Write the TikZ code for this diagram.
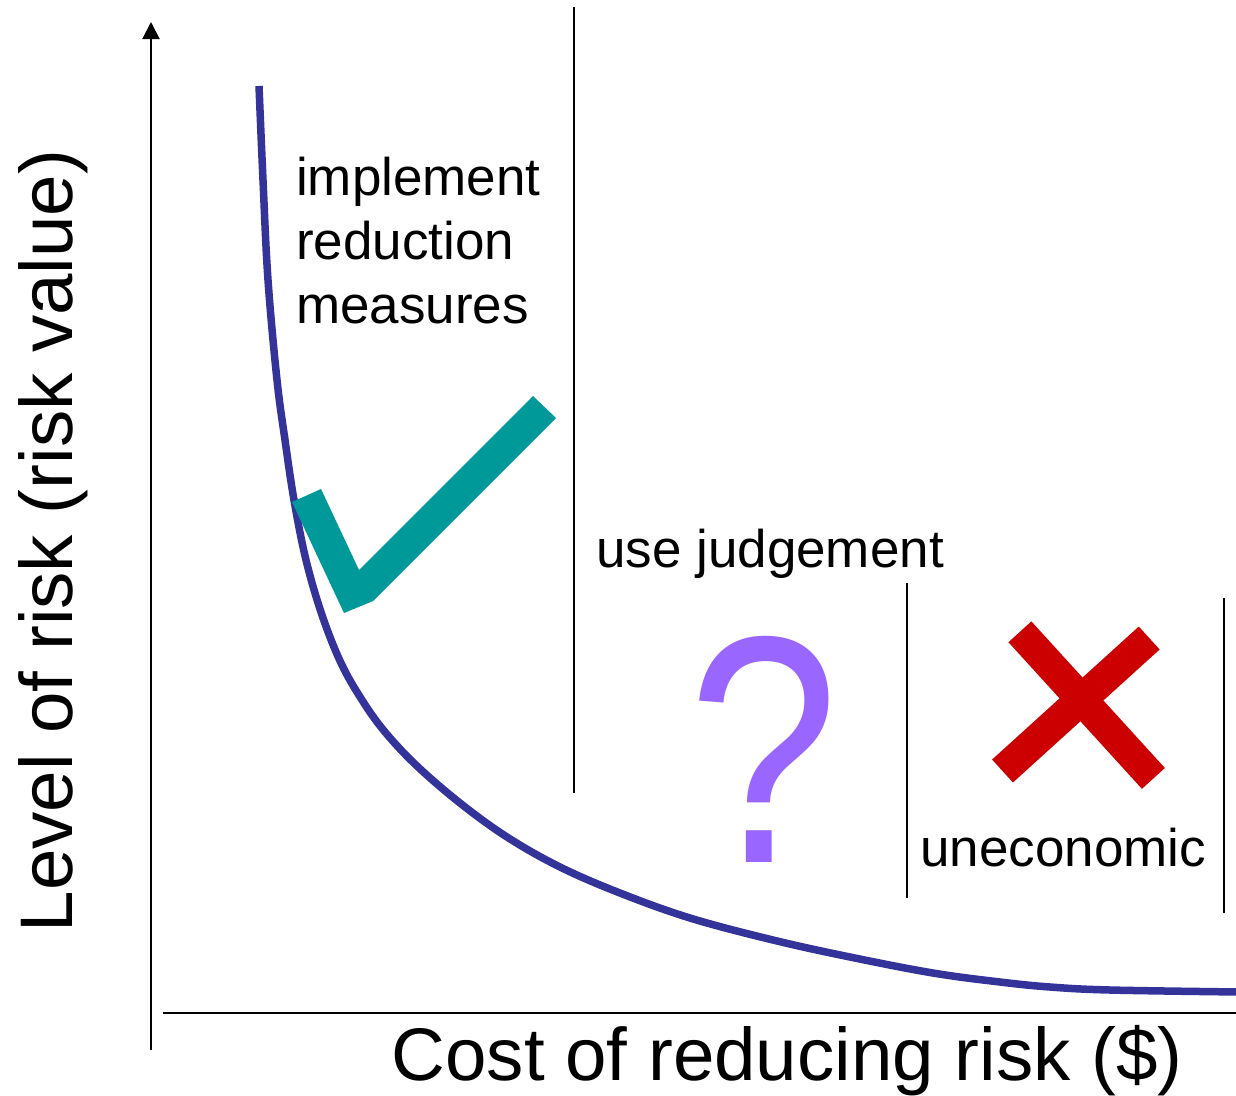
\documentclass[tikz,border=0pt]{standalone}
\usepackage{fontspec}
\setmainfont{Liberation Sans}
\usetikzlibrary{arrows.meta}
\definecolor{curveblue}{HTML}{333399}
\definecolor{checkteal}{HTML}{009999}
\definecolor{qpurple}{HTML}{9966FF}
\definecolor{xred}{HTML}{CC0000}
\tikzset{
  axisline/.style={line width=2pt, black},
  divider/.style={line width=1.5pt, black},
  lbl/.style={inner sep=0pt, font=\fontsize{53}{64}\selectfont},
  biglbl/.style={inner sep=0pt, font=\fontsize{74.5}{86}\selectfont},
}
\begin{document}
\begin{tikzpicture}[x=1pt,y=-1pt]
\useasboundingbox (0,0) rectangle (1236,1095);
% axes
\coordinate (ybot) at (151,1050);
\coordinate (ytop) at (151,22);
\coordinate (xl) at (163,1013);
\coordinate (xr) at (1240,1013);
\draw[axisline,-{Triangle[width=17pt,length=17pt]}] (ybot) -- (ytop);
\draw[axisline] (xl) -- (xr);
% dividers
\coordinate (d1t) at (574,7);   \coordinate (d1b) at (574,793);
\coordinate (d2t) at (907,583); \coordinate (d2b) at (907,898);
\coordinate (d3t) at (1224,598);\coordinate (d3b) at (1224,913);
\draw[divider] (d1t) -- (d1b);
\draw[divider] (d2t) -- (d2b);
\draw[divider] (d3t) -- (d3b);
% curve
\draw[curveblue, line width=7.5pt] plot[smooth, tension=0.6] coordinates {
 (259,86) (263,180) (268,280) (277,380) (285,440) (294,500) (306,560)
 (322,615) (341,663) (362,700) (385,732) (417,766) (460,803) (507,837)
 (560,867) (620,893) (690,918) (773,940) (850,957) (933,973) (1000,982)
 (1050,987) (1110,990) (1240,992)};
% check mark
\fill[checkteal] (292,502) -- (321,489) -- (359,570) -- (533,396) -- (556,418)
  -- (373,601) -- (344,613) -- cycle;
% question mark
\node[inner sep=0pt, anchor=base, text=qpurple, font=\fontsize{324}{330}\selectfont] (qm) at (764,862) {\scalebox{0.835}[1]{?}};
% cross
\draw[xred, line width=31pt] (1019.9,631.8) -- (1153.4,778.4);
\draw[xred, line width=31pt] (1149.2,638) -- (1002.5,771);
% labels
\node[lbl, anchor=base west, align=left] (impl) at (296,323) {implement\\reduction\\measures};
\node[lbl, anchor=base west] (judg) at (596,567) {use judgement};
\node[lbl, anchor=base west] (unec) at (920,866) {uneconomic};
\node[biglbl, anchor=base] (xlab) at (787,1080) {Cost of reducing risk (\$)};
\node[biglbl, anchor=base, rotate=90] (ylab) at (72,541) {Level of risk (risk value)};
\end{tikzpicture}
\end{document}
